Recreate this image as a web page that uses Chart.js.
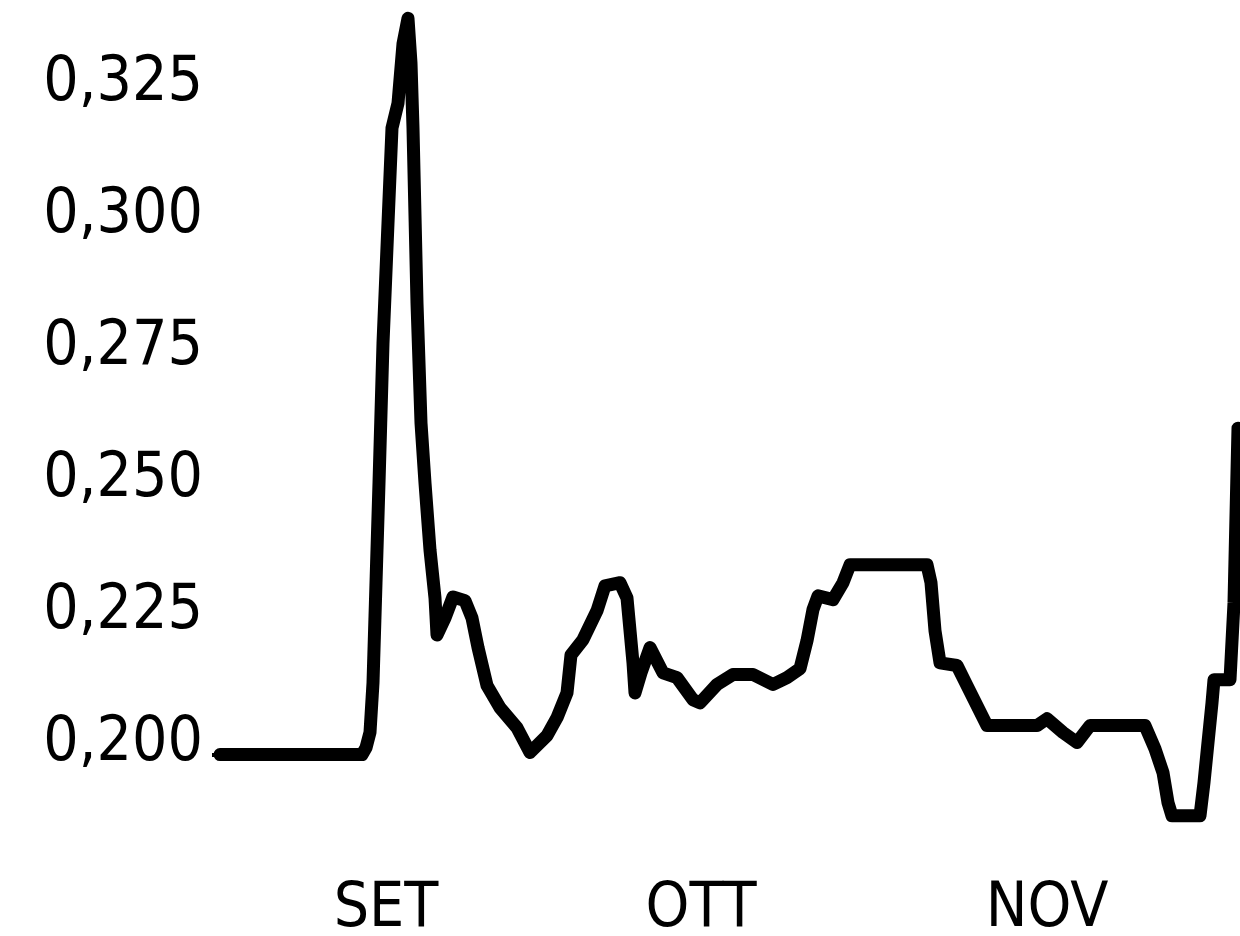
<!DOCTYPE html>
<html>
<head>
<meta charset="utf-8">
<script src="https://cdn.jsdelivr.net/npm/chart.js@4.4.1/dist/chart.umd.min.js"></script>
<style>
  html, body { margin: 0; padding: 0; background: #fff; }
  #wrap { width: 1240px; height: 936px; position: relative; }
</style>
</head>
<body>
<div id="wrap"><canvas id="myChart"></canvas></div>
<script>
// days from the start of the plot
const days = [
  0, 14.2, 14.6, 15.0, 15.3, 15.6, 15.9, 16.3, 16.8, 17.2,
  17.8, 18.3, 18.8, 19.1, 19.3, 19.7, 20.1, 20.5, 21.0, 21.5,
  21.7, 22.5, 23.3, 24.5, 25.2, 25.8, 26.7, 28.0, 29.7, 31.0,
  32.7, 33.7, 34.7, 35.1, 36.3, 37.7, 38.5, 40.0, 40.7, 41.3,
  41.5, 42.1, 43.0, 44.3, 45.7, 47.3, 48.0, 49.7, 51.3, 53.3,
  55.3, 56.7, 58.0, 58.7, 59.3, 59.8, 61.3, 62.3, 63.0, 70.7,
  71.1, 71.5, 72.0, 73.7, 74.7, 75.7, 76.7, 81.7, 82.7, 84.3,
  85.7, 87.0, 92.5, 93.5, 94.3, 94.8, 95.2, 98.0, 98.4, 98.8,
  99.2, 99.4, 101.0, 101.4, 101.8
];
const values = [
  0.200, 0.200, 0.2013, 0.2042, 0.2136, 0.2326, 0.2515, 0.2780, 0.3008, 0.3188,
  0.3235, 0.3348, 0.3396, 0.3311, 0.3188, 0.2856, 0.2629, 0.2515, 0.2388, 0.2297,
  0.2227, 0.2259, 0.2299, 0.2292, 0.2259, 0.2203, 0.2131, 0.2089, 0.2051, 0.2004,
  0.2036, 0.2070, 0.2117, 0.2189, 0.2218, 0.2273, 0.2320, 0.2326, 0.2297, 0.2174,
  0.2117, 0.2155, 0.2203, 0.2155, 0.2146, 0.2104, 0.2098, 0.2133, 0.2152, 0.2152,
  0.2133, 0.2146, 0.2163, 0.2216, 0.2275, 0.2301, 0.2294, 0.2326, 0.2360, 0.2360,
  0.2326, 0.2235, 0.2174, 0.2169, 0.2131, 0.2093, 0.2055, 0.2055, 0.2068, 0.2042,
  0.2023, 0.2055, 0.2055, 0.2011, 0.1966, 0.1909, 0.1884, 0.1884, 0.1947, 0.2023,
  0.2098, 0.2142, 0.2142, 0.2288, 0.2619
];
const monthTicks = [16.6, 48.1, 82.7];
const monthLabels = ['SET', 'OTT', 'NOV'];
const yTicks = [0.200, 0.225, 0.250, 0.275, 0.300, 0.325];

const points = days.map((d, i) => ({ x: d, y: values[i] }));
const font = { family: '"DejaVu Sans Condensed", "DejaVu Sans", sans-serif', size: 62 };

var ctx = document.getElementById('myChart').getContext('2d');
var chart = new Chart(ctx, {
    type: 'line',
    data: {
        datasets: [{
            data: points,
            borderColor: '#000',
            borderWidth: 13,
            borderJoinStyle: 'round',
            borderCapStyle: 'round',
            pointRadius: 0,
            tension: 0,
            fill: false,
            clip: false
        }]
    },
    options: {
        responsive: true,
        maintainAspectRatio: false,
        devicePixelRatio: 1,
        animation: false,
        layout: { padding: { top: 11, right: 0, left: 0, bottom: 0 } },
        plugins: { legend: { display: false }, tooltip: { enabled: false } },
        scales: {
            x: {
                type: 'linear',
                min: 0,
                max: 102,
                afterFit: axis => {
                    axis.height = 97;
                    axis.paddingLeft = 0;
                    axis.paddingRight = 0;
                },
                afterBuildTicks: axis => { axis.ticks = monthTicks.map(v => ({ value: v })); },
                grid: { display: false, drawTicks: false },
                border: { display: false },
                ticks: {
                    color: '#000',
                    font: font,
                    padding: 34,
                    maxRotation: 0,
                    autoSkip: false,
                    callback: (v, i) => monthLabels[i]
                }
            },
            y: {
                min: 0.184,
                max: 0.341,
                afterFit: axis => {
                    axis.width = 220;
                    axis.paddingTop = 0;
                    axis.paddingBottom = 0;
                },
                afterBuildTicks: axis => { axis.ticks = yTicks.map(v => ({ value: v })); },
                grid: {
                    drawOnChartArea: false,
                    tickLength: 8,
                    lineWidth: 4,
                    color: c => (c.tick && Math.abs(c.tick.value - 0.2) < 1e-6) ? '#000' : 'rgba(0,0,0,0)'
                },
                border: { display: false },
                ticks: {
                    color: '#000',
                    font: font,
                    padding: 9,
                    labelOffset: -11,
                    callback: v => v.toFixed(3).replace('.', ',')
                }
            }
        }
    }
});
</script>
</body>
</html>
